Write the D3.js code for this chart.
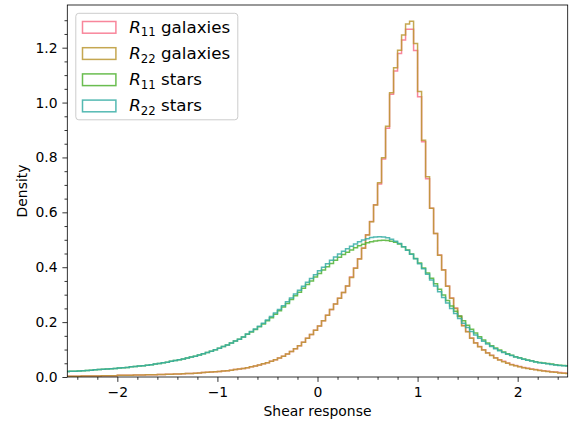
<!DOCTYPE html>
<html><head><meta charset="utf-8">
<script src="https://cdn.jsdelivr.net/npm/d3@7"></script>
<style>body{margin:0;background:#fff}svg{display:block}text{font-family:"DejaVu Sans",sans-serif;fill:#000}</style>
</head><body>
<svg id="c" width="575" height="423"></svg>
<script>
// Histogram bins: left edge of first bin and bin width (x = shear response)
const binStart = -2.52;
const binWidth = 0.04;

const r11Galaxies = [
0.003,0.003,0.003,0.003,0.004,0.004,0.004,0.004,0.004,0.005,
0.005,0.005,0.005,0.006,0.006,0.006,0.006,0.007,0.007,0.007,
0.008,0.008,0.008,0.009,0.009,0.010,0.010,0.011,0.011,0.012,
0.013,0.013,0.014,0.015,0.016,0.017,0.018,0.019,0.020,0.022,
0.023,0.025,0.027,0.029,0.031,0.034,0.037,0.040,0.044,0.048,
0.052,0.057,0.063,0.069,0.076,0.084,0.093,0.103,0.114,0.127,
0.141,0.155,0.170,0.186,0.205,0.225,0.246,0.266,0.287,0.308,
0.332,0.364,0.397,0.431,0.470,0.518,0.567,0.628,0.703,0.794,
0.906,1.030,1.115,1.179,1.228,1.267,1.267,1.190,1.021,0.857,
0.722,0.615,0.523,0.445,0.391,0.332,0.288,0.251,0.221,0.188,
0.166,0.142,0.125,0.111,0.099,0.088,0.079,0.070,0.063,0.057,
0.051,0.046,0.042,0.038,0.035,0.032,0.029,0.027,0.025,0.023,
0.021,0.019,0.018,0.016,0.015,0.014];

const r22Galaxies = [
0.003,0.003,0.003,0.003,0.004,0.004,0.004,0.004,0.004,0.005,
0.005,0.005,0.005,0.006,0.006,0.006,0.006,0.007,0.007,0.007,
0.008,0.008,0.008,0.009,0.009,0.010,0.010,0.011,0.011,0.012,
0.013,0.013,0.014,0.015,0.016,0.017,0.018,0.019,0.020,0.022,
0.023,0.025,0.027,0.029,0.031,0.034,0.037,0.040,0.044,0.048,
0.052,0.057,0.063,0.069,0.076,0.084,0.093,0.103,0.114,0.127,
0.141,0.155,0.170,0.186,0.205,0.225,0.246,0.266,0.287,0.308,
0.332,0.363,0.396,0.430,0.469,0.517,0.566,0.627,0.708,0.799,
0.914,1.036,1.127,1.191,1.246,1.286,1.296,1.215,1.040,0.863,
0.730,0.615,0.523,0.444,0.390,0.331,0.287,0.250,0.220,0.187,
0.165,0.141,0.124,0.110,0.098,0.087,0.078,0.069,0.062,0.056,
0.050,0.045,0.041,0.037,0.034,0.031,0.028,0.026,0.024,0.022,
0.020,0.018,0.017,0.015,0.014,0.013];

const r11Stars = [
0.020,0.021,0.021,0.022,0.023,0.024,0.025,0.026,0.027,0.028,
0.029,0.030,0.031,0.033,0.034,0.035,0.037,0.038,0.040,0.041,
0.043,0.045,0.047,0.049,0.052,0.054,0.057,0.060,0.063,0.066,
0.069,0.073,0.076,0.080,0.085,0.089,0.094,0.099,0.105,0.111,
0.117,0.124,0.131,0.138,0.146,0.156,0.164,0.173,0.183,0.193,
0.205,0.216,0.229,0.241,0.255,0.268,0.282,0.296,0.309,0.323,
0.337,0.350,0.364,0.377,0.390,0.402,0.414,0.425,0.436,0.446,
0.455,0.463,0.471,0.478,0.484,0.489,0.493,0.496,0.497,0.498,
0.497,0.495,0.491,0.485,0.475,0.463,0.448,0.432,0.415,0.397,
0.379,0.360,0.340,0.320,0.299,0.279,0.259,0.240,0.222,0.205,
0.189,0.174,0.160,0.147,0.135,0.124,0.114,0.106,0.098,0.091,
0.085,0.079,0.074,0.070,0.066,0.062,0.059,0.056,0.053,0.051,
0.049,0.047,0.045,0.043,0.042,0.041];

const r22Stars = [
0.020,0.021,0.021,0.022,0.023,0.024,0.025,0.026,0.027,0.028,
0.029,0.030,0.031,0.033,0.034,0.035,0.037,0.038,0.040,0.041,
0.043,0.045,0.047,0.049,0.052,0.054,0.057,0.060,0.063,0.066,
0.069,0.073,0.076,0.080,0.085,0.089,0.094,0.099,0.105,0.111,
0.117,0.124,0.131,0.138,0.146,0.157,0.166,0.175,0.185,0.196,
0.208,0.220,0.233,0.246,0.260,0.274,0.288,0.302,0.316,0.331,
0.345,0.359,0.373,0.387,0.400,0.413,0.425,0.437,0.448,0.458,
0.467,0.476,0.485,0.493,0.499,0.504,0.508,0.510,0.511,0.510,
0.507,0.502,0.495,0.486,0.475,0.462,0.447,0.431,0.413,0.394,
0.374,0.353,0.332,0.311,0.290,0.270,0.250,0.231,0.213,0.196,
0.180,0.166,0.153,0.141,0.130,0.120,0.111,0.103,0.096,0.089,
0.083,0.078,0.073,0.069,0.065,0.061,0.058,0.055,0.052,0.050,
0.048,0.046,0.044,0.042,0.041,0.040];

const seriesNames = ["11 galaxies", "22 galaxies", "11 stars", "22 stars"];
const seriesColors = ["#f77189", "#bb9832", "#50b131", "#36ada4"];
const seriesValues = [r11Galaxies, r22Galaxies, r11Stars, r22Stars];

const xTicks = [-2, -1, 0, 1, 2];
const yTicks = [0.0, 0.2, 0.4, 0.6, 0.8, 1.0, 1.2];
const xLabel = "Shear response";
const yLabel = "Density";

const svg = d3.select("#c");
const L = 67.3, R = 567.7, T = 5, B = 377;
const x = d3.scaleLinear().domain([-2.5, 2.5]).range([L, R]);
const y = d3.scaleLinear().domain([0, 1.3555]).range([B, T]);

svg.append("defs").append("clipPath").attr("id","clip")
  .append("rect").attr("x",L).attr("y",T).attr("width",R-L).attr("height",B-T);

const line = d3.line().x(d => x(d[0])).y(d => y(d[1]));
const g = svg.append("g").attr("clip-path","url(#clip)");
seriesValues.forEach((vals, si) => {
  const pts = [];
  vals.forEach((v, i) => {
    const a = binStart + i * binWidth;
    pts.push([a, v], [a + binWidth, v]);
  });
  g.append("path").attr("d", line(pts)).attr("fill","none")
    .attr("stroke", seriesColors[si]).attr("stroke-width",1.5)
    .attr("stroke-opacity",0.85).attr("stroke-linejoin","miter");
});

// axes
const fmt = d => d < 0 ? "\u2212" + Math.abs(d) : String(d);
const xAxis = d3.axisBottom(x).tickValues(xTicks).tickFormat(fmt).tickSizeInner(4.9).tickSizeOuter(0).tickPadding(4.9);
const xMinor = d3.axisBottom(x).tickValues(d3.range(-2.4, 2.5, 0.2).filter(v => Math.abs(v - Math.round(v)) > 0.05)).tickFormat("").tickSizeInner(2.8).tickSizeOuter(0);
const yAxis = d3.axisLeft(y).tickValues(yTicks).tickFormat(d3.format(".1f")).tickSizeInner(4.9).tickSizeOuter(0).tickPadding(4.9);
const yMinor = d3.axisLeft(y).tickValues(d3.range(0.05, 1.35, 0.05).filter(v => Math.abs(v*5 - Math.round(v*5)) > 0.01)).tickFormat("").tickSizeInner(2.8).tickSizeOuter(0);

function styleAxis(sel){
  sel.select(".domain").remove();
  sel.selectAll(".tick line").attr("stroke","#000").attr("stroke-width",0.8);
  sel.selectAll(".tick text").attr("font-size","13.9px").attr("font-family","DejaVu Sans").attr("fill","#000");
}
svg.append("g").attr("transform",`translate(0,${B})`).call(xAxis).call(styleAxis);
svg.append("g").attr("transform",`translate(0,${B})`).call(xMinor).call(styleAxis);
svg.append("g").attr("transform",`translate(${L},0)`).call(yAxis).call(styleAxis);
svg.append("g").attr("transform",`translate(${L},0)`).call(yMinor).call(styleAxis);

// spines
svg.append("rect").attr("x",L).attr("y",T).attr("width",R-L).attr("height",B-T)
  .attr("fill","none").attr("stroke","#000").attr("stroke-width",0.8);

svg.append("text").attr("x",(L+R)/2).attr("y",416).attr("text-anchor","middle")
  .attr("font-size","13.9px").text(xLabel);
svg.append("text").attr("transform",`translate(27,${(T+B)/2}) rotate(-90)`).attr("text-anchor","middle")
  .attr("font-size","13.9px").text(yLabel);

// legend
const fs = 16.7;
const lg = svg.append("g");
lg.append("rect").attr("x",75.8).attr("y",13.3).attr("width",162).attr("height",106.5)
  .attr("rx",3).attr("fill","#fff").attr("fill-opacity",0.8).attr("stroke","#cccccc").attr("stroke-width",1);
seriesNames.forEach((name, i) => {
  const cy = 27.3 + i * 26.2;
  lg.append("rect").attr("x",82.5).attr("y",cy-5.8).attr("width",33.4).attr("height",11.7)
    .attr("fill","none").attr("stroke",seriesColors[i]).attr("stroke-width",1.5).attr("stroke-opacity",0.85);
  const t = lg.append("text").attr("x",129.2).attr("y",cy+5.5).attr("font-size",fs+"px");
  t.append("tspan").attr("font-style","italic").text("R");
  const parts = name.split(" ");
  t.append("tspan").attr("font-size",(fs*0.7)+"px").attr("dy",3.5).text(parts[0]);
  t.append("tspan").attr("dy",-3.5).text(" " + parts.slice(1).join(" "));
});
</script>
</body></html>
